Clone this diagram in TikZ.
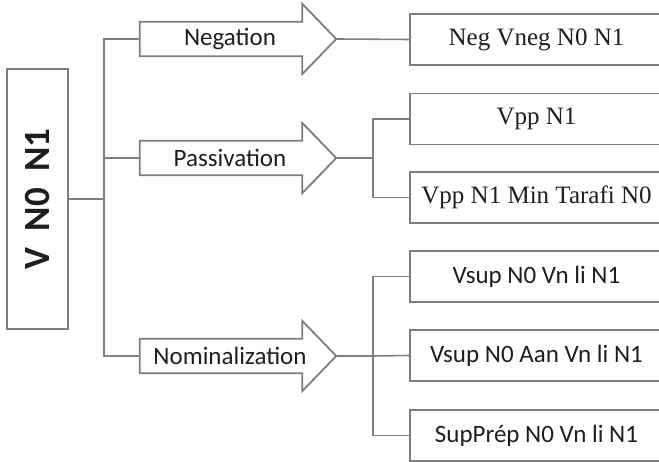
\documentclass[tikz,border=0pt]{standalone}
\usepackage{fontspec}
\usepackage{graphicx}
\setmainfont{Liberation Serif}
\newfontfamily\calibri{Carlito}
\usetikzlibrary{calc}

\definecolor{linegray}{RGB}{128,128,128}
\definecolor{boxgray}{RGB}{125,125,125}
\definecolor{ink}{RGB}{30,30,30}

\tikzset{
  conn/.style={draw=linegray, line width=1.6pt},
  frame/.style={draw=boxgray, line width=1.8pt, line join=miter},
  mainbox/.style={frame, minimum width=61, minimum height=260, inner sep=0, text=ink,
                  font=\calibri\bfseries\fontsize{37}{40}\selectfont},
  leafbox/.style={frame, minimum width=253, minimum height=51, inner sep=0, text=ink},
  serifleaf/.style={leafbox, font=\fontsize{25}{30}\selectfont},
  sansleaf/.style={leafbox, font=\calibri\fontsize{25}{30}\selectfont},
  arrowbody/.style={minimum width=162, minimum height=34, inner sep=0},
  arrowtext/.style={inner sep=0, text=ink, font=\calibri\fontsize{25}{30}\selectfont},
}

\begin{document}
\begin{tikzpicture}[x=1pt, y=-1pt]
\useasboundingbox (0,0) rectangle (659,462);
\clip (0,0) rectangle (659,462);

% root pattern
\node[mainbox] (vn) at (37.5,199) {\rotatebox{90}{V\hspace{0.45em}N0\hspace{0.45em}N1}};

% transformation arrows (invisible body nodes, outline drawn from anchors)
\foreach \n/\y in {neg/39, pas/158, nom/356}{
  \node[arrowbody] (\n) at (221,\y) {};
  \coordinate (\n tip) at ($(\n.east)+(34,0)$);
  \draw[frame] (\n.north west) -- (\n.north east) -- ++(0,-18) -- (\n tip)
     -- ($(\n.south east)+(0,18)$) -- (\n.south east) -- (\n.south west) -- cycle;
}
\node[arrowtext] (negt) at (230,39)  {Negation};
\node[arrowtext] (past) at (230,158) {Passivation};
\node[arrowtext] (nomt) at (230,356) {Nominalization};

% derived patterns
\node[serifleaf] (negbox) at (536.5,39.5)  {Neg Vneg N0 N1};
\node[serifleaf] (vpp)    at (536.5,119)   {Vpp N1};
\node[serifleaf] (vppmin) at (536.5,197.5) {Vpp N1 Min Tarafi N0};
\node[sansleaf]  (vsupa)  at (536.5,276.5) {Vsup N0 Vn li N1};
\node[sansleaf]  (vsupb)  at (536.5,355.5) {Vsup N0 Aan Vn li N1};
\node[sansleaf]  (supp)   at (536.5,435.5) {SupPrép N0 Vn li N1};

% tree from the root to the arrows
\coordinate (j0) at (104,199);
\draw[conn] (vn.east) -- (j0);
\draw[conn] (neg.west) -| (j0) |- (nom.west);
\draw[conn] (pas.west) -- (pas.west -| j0);

% arrows to derived patterns
\draw[conn] (negtip) -- (negbox.west);
\coordinate (jp) at (373,158);
\draw[conn] (pastip) -- (jp);
\draw[conn] (vpp.west) -| (jp) |- (vppmin.west);
\coordinate (jn) at (373,356);
\draw[conn] (nomtip) -- (jn);
\draw[conn] (vsupa.west) -| (jn) |- (supp.west);
\draw[conn] (vsupb.west) -- (jn);
\end{tikzpicture}
\end{document}
